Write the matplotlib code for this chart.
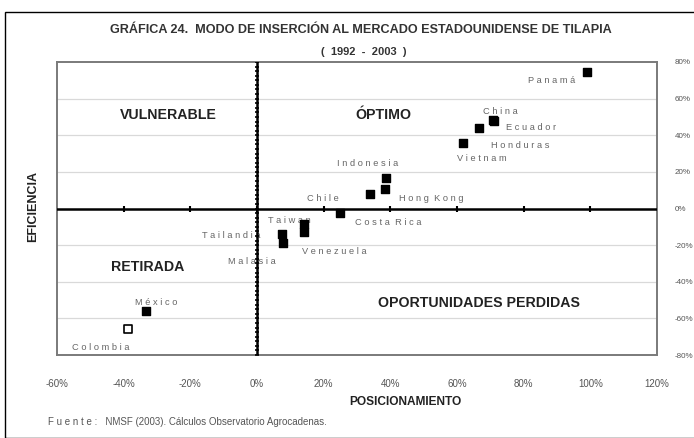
import numpy as np
import matplotlib
matplotlib.use("Agg")
import matplotlib.pyplot as plt
from matplotlib.patches import Rectangle
from matplotlib.ticker import FuncFormatter

# datos (posicionamiento %, eficiencia %)
paises = ["Panamá", "China", "Ecuador", "Honduras", "Vietnam", "Indonesia",
          "Hong Kong", "Chile", "Costa Rica", "Taiwan", "Tailandia",
          "Venezuela", "Malasia", "México", "Colombia"]
posicionamiento = [99.0, 70.8, 71.2, 66.6, 61.8, 38.7, 38.4, 33.9, 25.0,
                   14.1, 7.5, 14.1, 7.8, -33.3, -38.7]
eficiencia = [74.8, 48.6, 48.0, 43.7, 36.0, 16.4, 10.4, 7.7, -2.7,
              -8.2, -13.7, -13.1, -19.1, -55.7, -66.0]

x_ticks = [-60, -40, -20, 0, 20, 40, 60, 80, 100, 120]
y_ticks = [-80, -60, -40, -20, 0, 20, 40, 60, 80]

cuadrantes = ["VULNERABLE", "ÓPTIMO", "RETIRADA", "OPORTUNIDADES PERDIDAS"]
cuad_x = [-26.7, 38.0, -32.7, 66.5]
cuad_y = [50.8, 50.8, -31.7, -51.4]

# desplazamiento de etiquetas en pixeles (dx, dy, alineacion)
offsets = {
    "Panamá": (-12, -9, "right"),
    "China": (-10, 8, "left"),
    "Ecuador": (12, -7, "left"),
    "Honduras": (12, -17, "left"),
    "Vietnam": (-6, -16, "left"),
    "Indonesia": (-18, 15, "center"),
    "Hong Kong": (14, -9, "left"),
    "Chile": (-31, -4, "right"),
    "Costa Rica": (15, -9, "left"),
    "Taiwan": (-36, 3, "left"),
    "Tailandia": (-22, -2, "right"),
    "Venezuela": (-2, -19, "left"),
    "Malasia": (-55, -18, "left"),
    "México": (-11, 8, "left"),
    "Colombia": (-56, -18, "left"),
}

W, H = 694, 438
fig = plt.figure(figsize=(W / 100, H / 100), dpi=100)
bold_font = ["Liberation Sans Narrow", "Liberation Sans", "DejaVu Sans"]
lab_font = ["Liberation Sans", "DejaVu Sans"]

# marco exterior
fig.patches.append(Rectangle((5 / W, 0), 1.2, 1 - 12 / H, transform=fig.transFigure,
                             fill=False, edgecolor="black", linewidth=1.0))

ax = fig.add_axes([57 / W, 1 - 355 / H, 600 / W, 293 / H])
ax.set_xlim(-60, 120)
ax.set_ylim(-80, 80)

for s in ax.spines.values():
    s.set_color("#7a7a7a")
    s.set_linewidth(1.4)

ax.set_xticks(x_ticks)
ax.set_yticks(y_ticks)
ax.xaxis.set_major_formatter(FuncFormatter(lambda v, p: f"{v:.0f}%"))
ax.yaxis.set_major_formatter(FuncFormatter(lambda v, p: f"{v:.0f}%"))
ax.yaxis.tick_right()
ax.tick_params(axis="x", length=0, pad=17, labelsize=7, labelcolor="#555555")
ax.tick_params(axis="y", length=0, pad=13, labelsize=5.8, labelcolor="#555555")
for t in ax.get_xticklabels() + ax.get_yticklabels():
    t.set_family(lab_font)

# lineas de cuadricula horizontales
for yv in y_ticks:
    if yv not in (0, -80, 80):
        ax.axhline(yv, color="#d9d9d9", linewidth=0.9, zorder=1)

# ejes centrales
ax.axhline(0, color="black", linewidth=1.8, zorder=3)
ax.axvline(0, color="black", linewidth=1.8, zorder=3)
ax.plot(x_ticks[1:-1], np.zeros(len(x_ticks) - 2), linestyle="none", marker="|",
        markersize=4, color="black", markeredgewidth=1.5, zorder=3)
minor_y = np.arange(-80, 80.1, 2.5)
ax.plot(np.zeros(len(minor_y)), minor_y, linestyle="none", marker="_",
        markersize=3.5, color="black", markeredgewidth=1.2, zorder=3)

# puntos
solid = [p != "Colombia" for p in paises]
px = np.array(posicionamiento)
py = np.array(eficiencia)
m = np.array(solid)
ax.scatter(px[m], py[m], marker="s", s=36, color="black", zorder=4)
ax.scatter(px[~m], py[~m], marker="s", s=30, facecolor="white",
           edgecolor="black", linewidth=1.2, zorder=4)

for nombre, xv, yv in zip(paises, posicionamiento, eficiencia):
    dx, dy, ha = offsets[nombre]
    txt = " ".join(nombre).replace("   ", "  ")
    ax.annotate(txt, (xv, yv), xytext=(dx, dy), textcoords="offset pixels",
                ha=ha, va="center", fontsize=6.7, color="#666666",
                family=lab_font, zorder=2)

for t, xv, yv in zip(cuadrantes, cuad_x, cuad_y):
    ax.text(xv, yv, t, ha="center", va="center", fontsize=10.2,
            fontweight="bold", family=bold_font, color="#222222", zorder=2)

# titulos
fig.text(361 / W, 1 - 30 / H,
         "GRÁFICA 24.  MODO DE INSERCIÓN AL MERCADO ESTADOUNIDENSE DE TILAPIA",
         ha="center", va="center", fontsize=9.1, fontweight="bold",
         family=bold_font, color="#333333")
fig.text(364 / W, 1 - 52 / H, "(  1992  -  2003  )", ha="center", va="center",
         fontsize=8, fontweight="bold", family=bold_font, color="#333333")
fig.text(405 / W, 1 - 402 / H, "POSICIONAMIENTO", ha="center", va="center",
         fontsize=8.6, fontweight="bold", family=bold_font, color="#222222")
fig.text(33 / W, 1 - 206 / H, "EFICIENCIA", ha="center", va="center",
         rotation=90, fontsize=9, fontweight="bold", family=bold_font,
         color="#222222")
fig.text(48 / W, 1 - 422 / H,
         "F u e n t e :   NMSF (2003). Cálculos Observatorio Agrocadenas.",
         ha="left", va="center", fontsize=7, family=lab_font, color="#555555")

fig.savefig("out.png", dpi=100)
